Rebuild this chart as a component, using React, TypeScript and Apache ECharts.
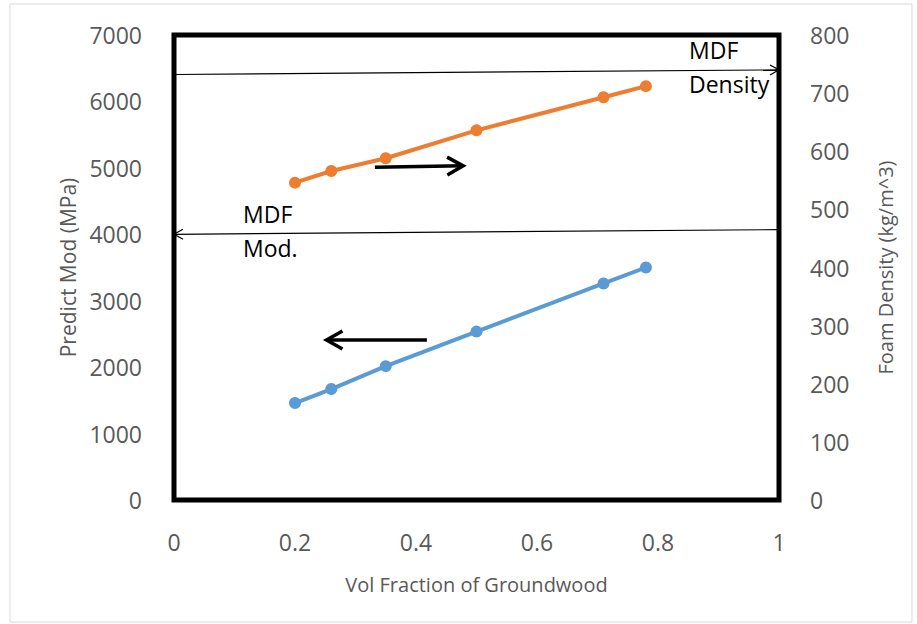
import React, { useEffect, useRef } from "react";
import * as echarts from "echarts";

const fractions = [0.2, 0.26, 0.35, 0.5, 0.71, 0.78];
const predictMod = [1460, 1670, 2015, 2535, 3260, 3500];
const foamDensity = [546, 566, 588, 636, 693, 712];

// annotation arrows: [xStart, yStart, xEnd(tip), yEnd(tip)]
const mdfDensityArrow = [[0, 732, 1, 740]]; // right axis units
const mdfModArrow = [[1, 4070, 0, 4000]]; // left axis units
const directionArrows = [
  [0.332, 5010, 0.478, 5030],
  [0.418, 2410, 0.252, 2410],
];

const FONT = "'Open Sans', 'Noto Sans', sans-serif";

function arrowRenderer(lineWidth: number, headLen: number, headHalf: number) {
  return (params: any, api: any) => {
    const p1 = api.coord([api.value(0), api.value(1)]);
    const p2 = api.coord([api.value(2), api.value(3)]);
    const dx = p2[0] - p1[0];
    const dy = p2[1] - p1[1];
    const len = Math.sqrt(dx * dx + dy * dy) || 1;
    const ux = dx / len;
    const uy = dy / len;
    const nx = -uy;
    const ny = ux;
    const bx = p2[0] - ux * headLen;
    const by = p2[1] - uy * headLen;
    return {
      type: "group",
      children: [
        {
          type: "line",
          shape: { x1: p1[0], y1: p1[1], x2: p2[0], y2: p2[1] },
          style: { stroke: "#000", lineWidth },
        },
        {
          type: "polyline",
          shape: {
            points: [
              [bx + nx * headHalf, by + ny * headHalf],
              [p2[0], p2[1]],
              [bx - nx * headHalf, by - ny * headHalf],
            ],
          },
          style: { stroke: "#000", lineWidth, fill: null, lineJoin: "miter" },
        },
      ],
    };
  };
}

export default function App() {
  const ref = useRef<HTMLDivElement>(null);
  useEffect(() => {
    if (!ref.current) return;
    const chart = echarts.init(ref.current, undefined, { renderer: "svg" });
    const tickStyle = { color: "#595959", fontSize: 23, fontFamily: FONT };
    const nameStyle = { color: "#595959", fontSize: 20, fontFamily: FONT };
    const plain = (v: number) => String(v);
    chart.setOption({
      animation: false,
      backgroundColor: "#fff",
      grid: {
        left: 174,
        right: 138,
        top: 35,
        bottom: 124,
        show: true,
        borderColor: "#000",
        borderWidth: 5,
        backgroundColor: "transparent",
      },
      xAxis: {
        type: "value",
        min: 0,
        max: 1,
        interval: 0.2,
        name: "Vol Fraction of Groundwood",
        nameLocation: "middle",
        nameGap: 74,
        nameTextStyle: nameStyle,
        axisLine: { show: false },
        axisTick: { show: false },
        splitLine: { show: false },
        axisLabel: { ...tickStyle, margin: 30, formatter: plain },
      },
      yAxis: [
        {
          type: "value",
          min: 0,
          max: 7000,
          interval: 1000,
          name: "Predict Mod (MPa)",
          nameLocation: "middle",
          nameGap: 93,
          nameTextStyle: { ...nameStyle, fontSize: 21 },
          axisLine: { show: false },
          axisTick: { show: false },
          splitLine: { show: false },
          axisLabel: { ...tickStyle, margin: 32, formatter: plain },
        },
        {
          type: "value",
          min: 0,
          max: 800,
          interval: 100,
          name: "Foam Density (kg/m^3)",
          nameLocation: "middle",
          nameGap: 96,
          nameTextStyle: nameStyle,
          axisLine: { show: false },
          axisTick: { show: false },
          splitLine: { show: false },
          axisLabel: { ...tickStyle, margin: 31, formatter: plain },
        },
      ],
      graphic: [
        {
          type: "rect",
          shape: { x: 10, y: 4, width: 902, height: 618 },
          style: { fill: "none", stroke: "#d9d9d9", lineWidth: 1 },
          silent: true,
        },
        { type: "text", x: 689, y: 38, style: { text: "MDF", fill: "#000", font: `23px ${FONT}` } },
        { type: "text", x: 689, y: 72, style: { text: "Density", fill: "#000", font: `23px ${FONT}` } },
        { type: "text", x: 243, y: 202, style: { text: "MDF", fill: "#000", font: `23px ${FONT}` } },
        { type: "text", x: 243, y: 236, style: { text: "Mod.", fill: "#000", font: `23px ${FONT}` } },
      ],
      series: [
        {
          type: "line",
          name: "Predict Mod",
          yAxisIndex: 0,
          data: fractions.map((x, i) => [x, predictMod[i]]),
          symbol: "circle",
          symbolSize: 12,
          lineStyle: { color: "#5B9BD5", width: 4 },
          itemStyle: { color: "#5B9BD5" },
        },
        {
          type: "line",
          name: "Foam Density",
          yAxisIndex: 1,
          data: fractions.map((x, i) => [x, foamDensity[i]]),
          symbol: "circle",
          symbolSize: 12,
          lineStyle: { color: "#ED7D31", width: 4 },
          itemStyle: { color: "#ED7D31" },
        },
        {
          type: "custom",
          yAxisIndex: 1,
          clip: false,
          silent: true,
          encode: { x: [0, 2], y: [1, 3] },
          data: mdfDensityArrow,
          renderItem: arrowRenderer(1.2, 9, 5),
        },
        {
          type: "custom",
          yAxisIndex: 0,
          clip: false,
          silent: true,
          encode: { x: [0, 2], y: [1, 3] },
          data: mdfModArrow,
          renderItem: arrowRenderer(1.2, 9, 5),
        },
        {
          type: "custom",
          yAxisIndex: 0,
          clip: false,
          silent: true,
          encode: { x: [0, 2], y: [1, 3] },
          data: directionArrows,
          renderItem: arrowRenderer(3.5, 16, 9),
        },
      ],
    });
    return () => chart.dispose();
  }, []);
  return <div ref={ref} style={{ width: 917, height: 624, position: "absolute", left: 0, top: 0 }} />;
}
